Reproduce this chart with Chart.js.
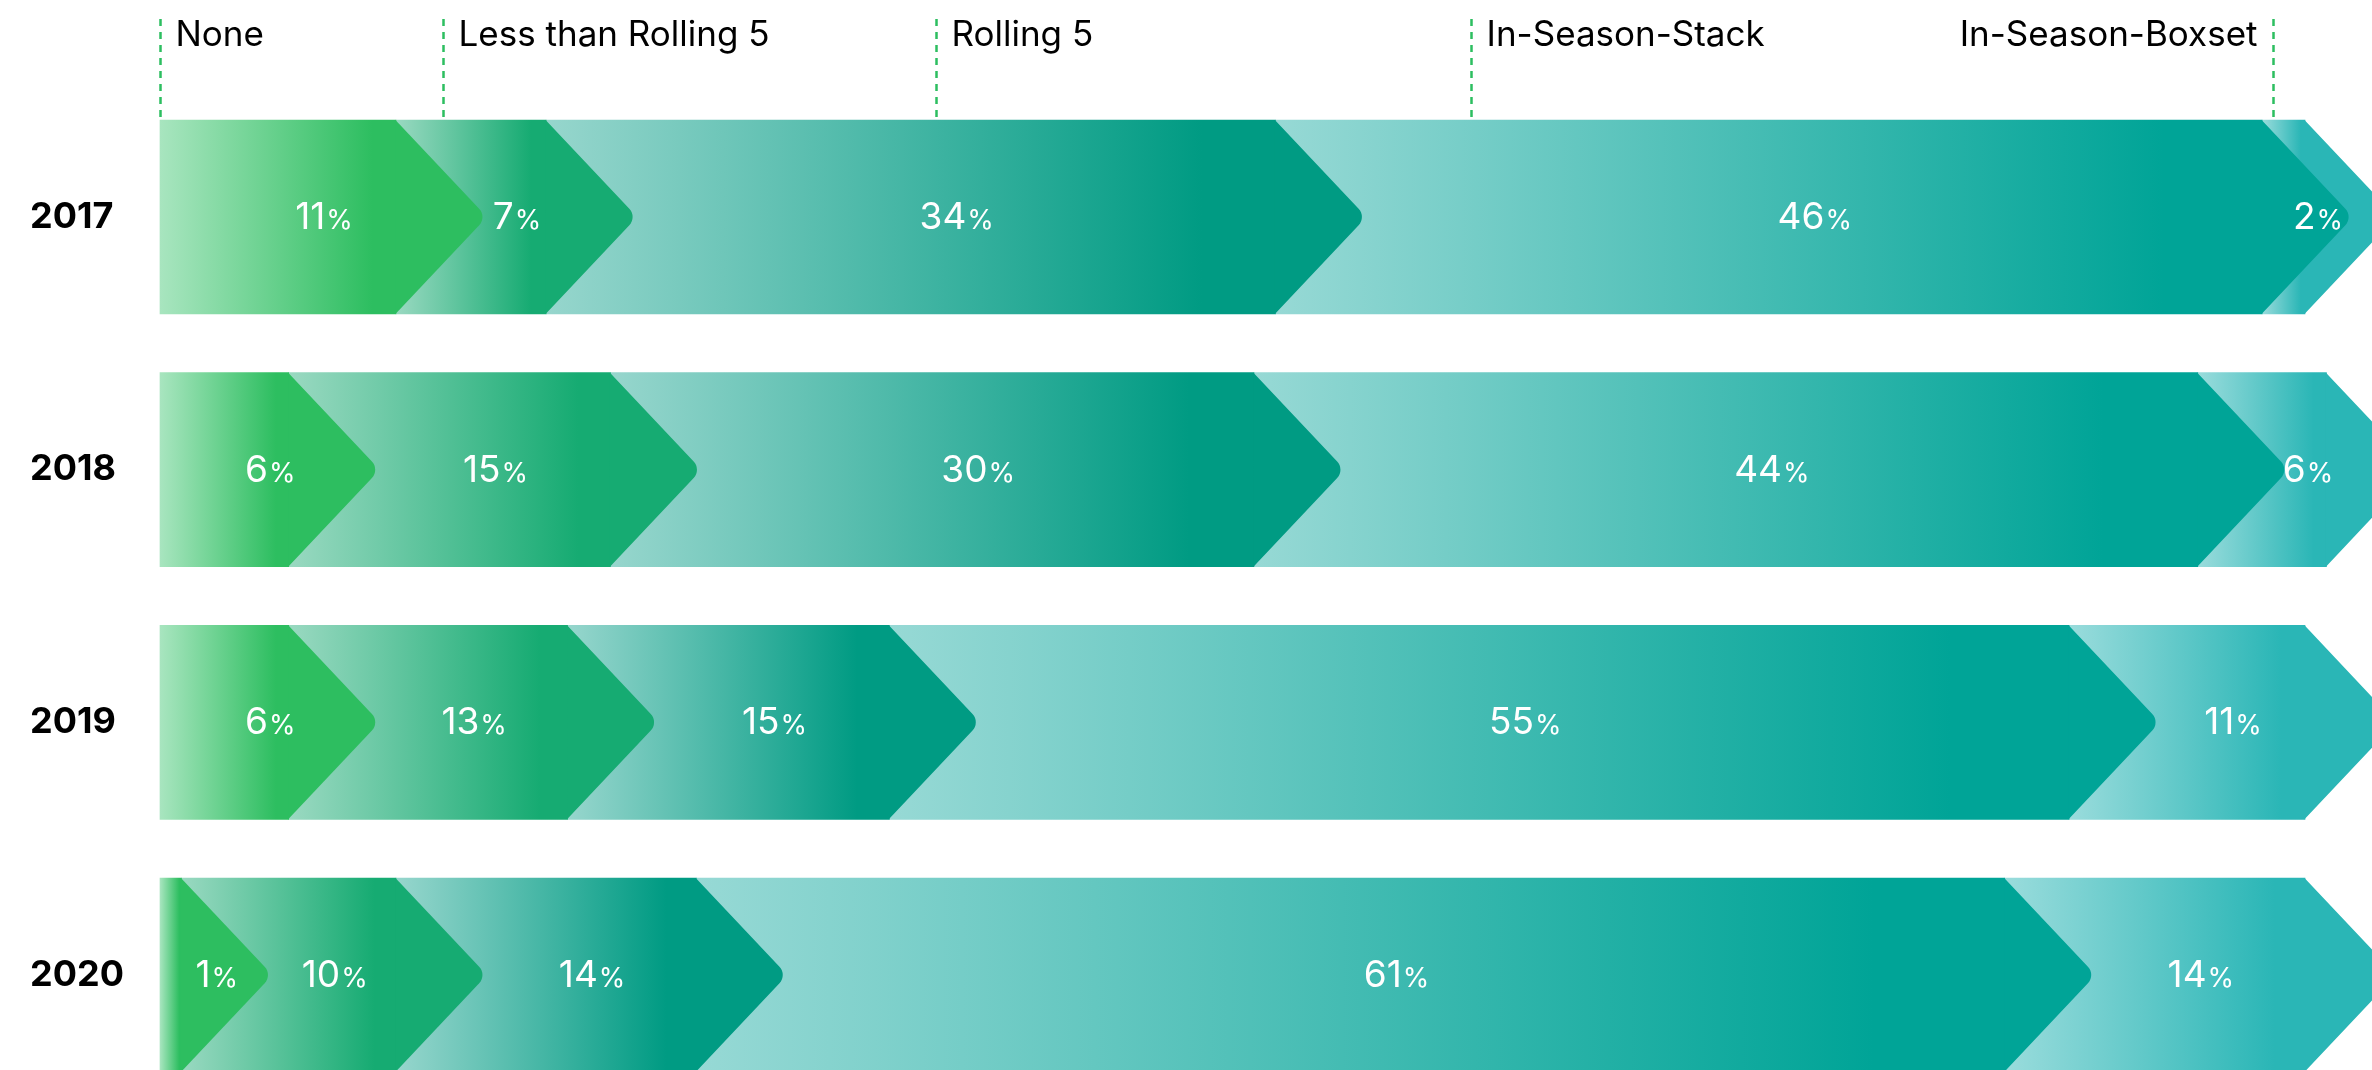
<!DOCTYPE html>
<html>
<head>
<meta charset="utf-8">
<script src="https://cdn.jsdelivr.net/npm/chart.js@4.4.1/dist/chart.umd.min.js"></script>
<style>
  html, body { margin: 0; padding: 0; background: #fff; overflow: hidden; }
  #wrap { width: 2372px; height: 1070px; }
</style>
</head>
<body>
<div id="wrap"><canvas id="stages-chart" width="2372" height="1070"></canvas></div>
<script>
// data
const years = ['2017', '2018', '2019', '2020'];
const stages = ['None', 'Less than Rolling 5', 'Rolling 5', 'In-Season-Stack', 'In-Season-Boxset'];
const none = [11, 6, 6, 1];
const lessThanRolling5 = [7, 15, 13, 10];
const rolling5 = [34, 30, 15, 14];
const inSeasonStack = [46, 44, 55, 61];
const inSeasonBoxset = [2, 6, 11, 14];
// where the header markers sit on the percent axis
const headerTicks = [0, 13.2, 36.2, 61.1, 98.5];

const series = [none, lessThanRolling5, rolling5, inSeasonStack, inSeasonBoxset];

// light (left) -> dark (right) for each stage
const lightColors = ['#a8e5bf', '#9ad9c1', '#97d6cd', '#97d9d5', '#9adcdc'];
const darkColors = ['#2dbe60', '#16ab72', '#009b83', '#00a497', '#2ab6b6'];

const ARROW = 91;

function stackStart(ds, i) {
  let s = 0;
  for (let k = 0; k < ds; k++) s += series[k][i];
  return s;
}

function barGradient(ds) {
  return function (context) {
    const chart = context.chart;
    const x = chart.scales && chart.scales.x;
    if (!chart.chartArea || !x || context.dataIndex == null) return darkColors[ds];
    const start = stackStart(ds, context.dataIndex);
    const end = start + series[ds][context.dataIndex];
    const x0 = x.getPixelForValue(start);
    const x1 = x.getPixelForValue(end);
    if (x1 - x0 < 1) return darkColors[ds];
    const g = chart.ctx.createLinearGradient(x0, 0, x1, 0);
    g.addColorStop(0, lightColors[ds]);
    g.addColorStop(0.9, darkColors[ds]);
    g.addColorStop(1, darkColors[ds]);
    return g;
  };
}

// arrow tips, drawn right after each dataset so they sit over the next segment
const arrowPlugin = {
  id: 'arrows',
  afterDatasetDraw(chart, args) {
    const ctx = chart.ctx;
    const ds = args.index;
    ctx.save();
    ctx.fillStyle = darkColors[ds];
    args.meta.data.forEach(bar => {
      const top = bar.y - bar.height / 2;
      const bottom = bar.y + bar.height / 2;
      const x = bar.x;
      ctx.beginPath();
      ctx.moveTo(x - 0.5, top);
      ctx.arcTo(x + ARROW, bar.y, x - 0.5, bottom, 12);
      ctx.lineTo(x - 0.5, bottom);
      ctx.closePath();
      ctx.fill();
    });
    ctx.restore();
  },
  afterDatasetsDraw(chart) {
    const ctx = chart.ctx;
    ctx.save();
    ctx.fillStyle = '#ffffff';
    ctx.textBaseline = 'alphabetic';
    series.forEach((values, ds) => {
      const meta = chart.getDatasetMeta(ds);
      meta.data.forEach((bar, i) => {
        const num = String(values[i]);
        ctx.font = '400 37px Inter';
        const wNum = ctx.measureText(num).width;
        ctx.font = '400 27px Inter';
        const wPct = ctx.measureText('%').width;
        let cx = (bar.base + bar.x) / 2 + ARROW / 2;
        cx = Math.min(cx, chart.width - 30 - (wNum + wPct) / 2);
        const left = cx - (wNum + wPct) / 2;
        const baseY = bar.y + 12;
        ctx.textAlign = 'left';
        ctx.font = '400 37px Inter';
        ctx.fillText(num, left, baseY);
        ctx.font = '400 27px Inter';
        ctx.fillText('%', left + wNum + 1, baseY);
      });
    });
    ctx.restore();
  },
  afterDraw(chart) {
    // stage headers with dotted markers
    const ctx = chart.ctx;
    const x = chart.scales.x;
    const barTop = chart.getDatasetMeta(0).data[0];
    const lineBottom = barTop.y - barTop.height / 2;
    ctx.save();
    stages.forEach((name, i) => {
      const px = Math.round(x.getPixelForValue(headerTicks[i])) + 0.5;
      ctx.strokeStyle = '#2dbe60';
      ctx.lineWidth = 2.5;
      ctx.setLineDash([7, 6]);
      ctx.beginPath();
      ctx.moveTo(px, 19);
      ctx.lineTo(px, lineBottom);
      ctx.stroke();
      ctx.setLineDash([]);
      ctx.fillStyle = '#000';
      ctx.font = '400 35px Inter';
      ctx.textBaseline = 'alphabetic';
      if (i === stages.length - 1) {
        ctx.textAlign = 'right';
        ctx.fillText(name, px - 16, 46);
      } else {
        ctx.textAlign = 'left';
        ctx.fillText(name, px + 15, 46);
      }
    });
    ctx.restore();
  }
};

Chart.defaults.font.family = 'Inter';

new Chart(document.getElementById('stages-chart'), {
  type: 'bar',
  data: {
    labels: years,
    datasets: series.map((values, ds) => ({
      label: stages[ds],
      data: values,
      backgroundColor: barGradient(ds),
      borderWidth: 0,
      barThickness: 194,
      clip: false
    }))
  },
  options: {
    indexAxis: 'y',
    responsive: false,
    animation: false,
    devicePixelRatio: 1,
    layout: { padding: { top: 217, bottom: 95, left: 30, right: 67 } },
    plugins: {
      legend: { display: false },
      tooltip: { enabled: false }
    },
    scales: {
      x: {
        stacked: true,
        min: 0,
        max: 100,
        display: false
      },
      y: {
        stacked: true,
        offset: false,
        grid: { display: false },
        border: { display: false },
        ticks: {
          crossAlign: 'far',
          padding: 0,
          color: '#000',
          font: { size: 36, weight: 'bold', family: 'Inter' }
        },
        afterFit(scale) { scale.width = 130; }
      }
    }
  },
  plugins: [arrowPlugin]
});
</script>
</body>
</html>
